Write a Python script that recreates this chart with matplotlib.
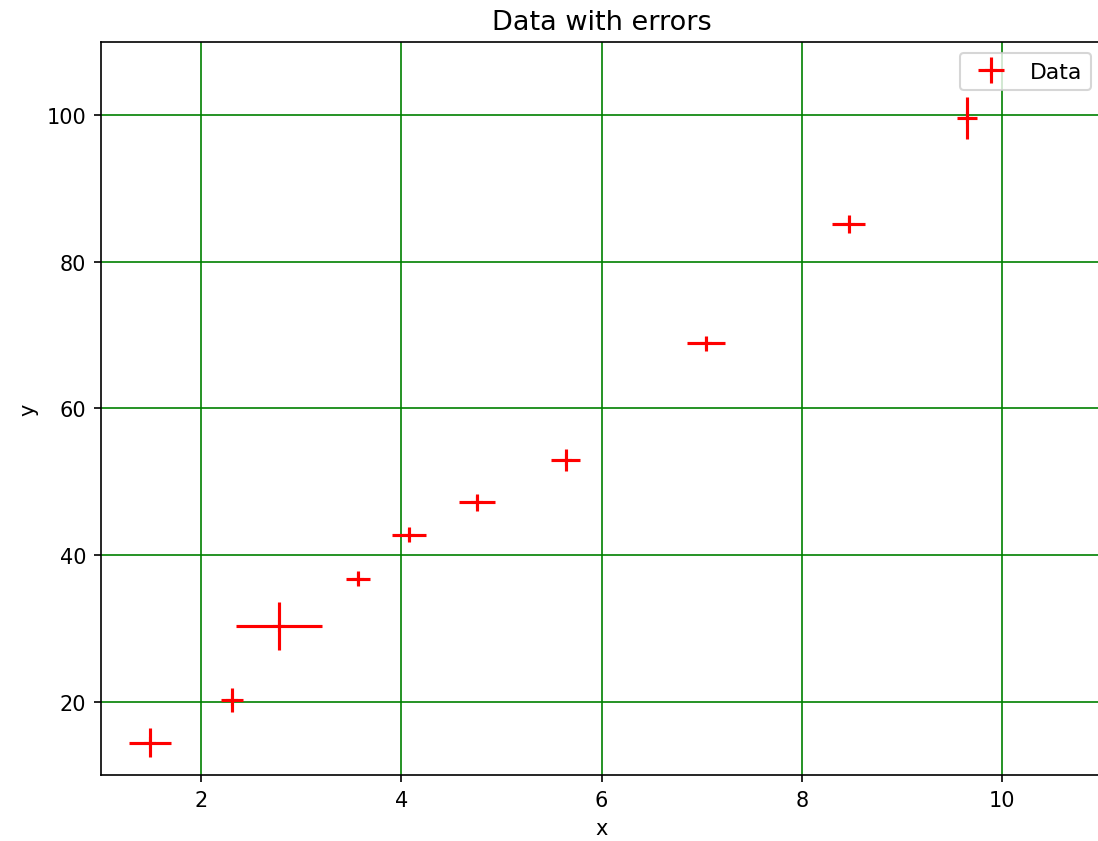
import matplotlib.pyplot as plt
import numpy as np
from matplotlib.container import ErrorbarContainer
from matplotlib.legend_handler import HandlerErrorbar

# data
x = np.array([1.49, 2.31, 2.78, 3.57, 4.08, 4.76, 5.64, 7.04, 8.47, 9.65])
y = np.array([14.4, 20.2, 30.3, 36.8, 42.8, 47.2, 53.0, 68.9, 85.2, 99.6])
x_err = np.array([0.21, 0.11, 0.43, 0.12, 0.17, 0.18, 0.145, 0.19, 0.165, 0.10])
y_err = np.array([2.0, 1.6, 3.3, 1.0, 1.0, 1.15, 1.5, 1.0, 1.2, 2.9])

# 1098x842 px at 150 dpi
fig = plt.figure(figsize=(7.32, 5.6133), dpi=150)
ax = fig.add_axes([0.092, 0.0784, 0.9117, 0.8706])

ax.errorbar(x, y, xerr=x_err, yerr=y_err, fmt='+', color='red', label='Data')

ax.grid(True, color='green')
ax.set_xlim(1, 11)
ax.set_ylim(10, 110)
ax.set_xticks([2, 4, 6, 8, 10])
ax.set_yticks([20, 40, 60, 80, 100])

ax.set_xlabel('x')
ax.set_ylabel('y')
ax.set_title('Data with errors', fontsize=13)
ax.legend(loc='upper right', fontsize=10.5,
          handler_map={ErrorbarContainer: HandlerErrorbar(xerr_size=0.6)})

plt.savefig('out.png', dpi=150)
plt.close()
